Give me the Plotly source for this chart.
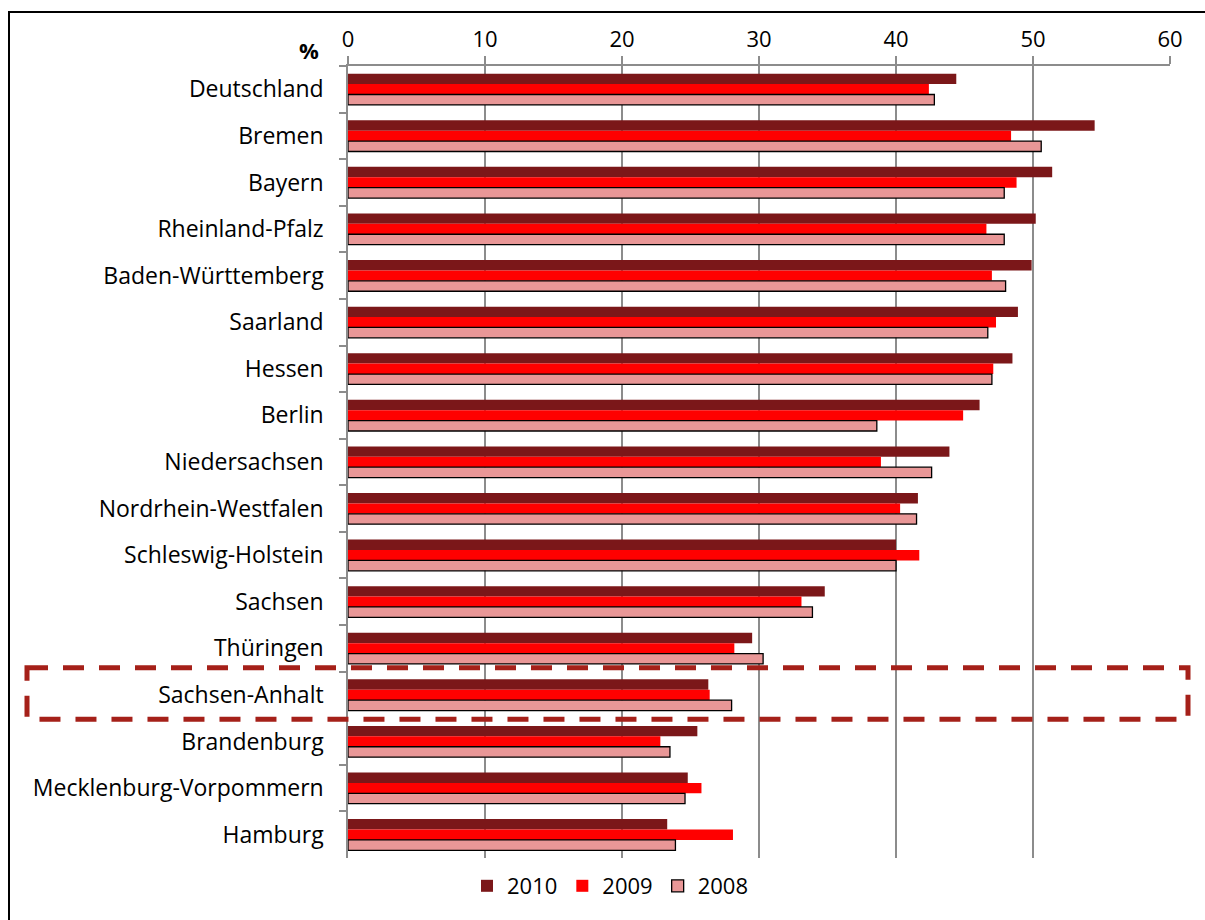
import plotly.graph_objects as go

# Länder, top to bottom
laender = [
    "Deutschland", "Bremen", "Bayern", "Rheinland-Pfalz", "Baden-Württemberg",
    "Saarland", "Hessen", "Berlin", "Niedersachsen", "Nordrhein-Westfalen",
    "Schleswig-Holstein", "Sachsen", "Thüringen", "Sachsen-Anhalt",
    "Brandenburg", "Mecklenburg-Vorpommern", "Hamburg",
]

# Anteile in %
werte_2010 = [44.4, 54.5, 51.4, 50.2, 49.9, 48.9, 48.5, 46.1, 43.9, 41.6,
              40.0, 34.8, 29.5, 26.3, 25.5, 24.8, 23.3]
werte_2009 = [42.4, 48.4, 48.8, 46.6, 47.0, 47.3, 47.1, 44.9, 38.9, 40.3,
              41.7, 33.1, 28.2, 26.4, 22.8, 25.8, 28.1]
werte_2008 = [42.8, 50.6, 47.9, 47.9, 48.0, 46.7, 47.0, 38.6, 42.6, 41.5,
              40.0, 33.9, 30.3, 28.0, 23.5, 24.6, 23.9]

x_ticks = [0, 10, 20, 30, 40, 50, 60]
hervorgehoben = "Sachsen-Anhalt"

FONT = "'Open Sans', Lato, sans-serif"
FS_CAT = 23
FS = 22
W, H = 1205, 920
L, R, T, B = 348, 35, 66, 62
plot_w = W - L - R
plot_h = H - T - B


def px_to_paper_x(px):
    return (px - L) / plot_w


def px_to_paper_y(py):
    return (H - B - py) / plot_h


fig = go.Figure()
series = [
    ("2010", werte_2010, "#7B1719", dict(width=0)),
    ("2009", werte_2009, "#FF0000", dict(width=0)),
    ("2008", werte_2008, "#E99797", dict(color="#000000", width=1.3)),
]
for name, vals, col, line in series:
    fig.add_trace(go.Bar(
        name=name, y=laender, x=vals, orientation="h",
        marker=dict(color=col, line=line),
    ))

# dashed frame around the highlighted Land (category slot +/- a bit)
idx = laender.index(hervorgehoben)
fig.add_shape(
    type="rect", xref="paper", yref="y",
    x0=px_to_paper_x(27), x1=px_to_paper_x(1188),
    y0=idx - 0.585, y1=idx + 0.52,
    line=dict(color="#A52019", width=5, dash="21px,15px"),
    layer="above",
)

# outer chart frame
fig.add_shape(
    type="rect", xref="paper", yref="paper",
    x0=px_to_paper_x(9), x1=px_to_paper_x(W + 10),
    y0=px_to_paper_y(H + 10), y1=px_to_paper_y(12),
    line=dict(color="#000000", width=2),
)

fig.add_annotation(
    text="<b>%</b>", xref="paper", yref="paper",
    x=px_to_paper_x(297), y=px_to_paper_y(33),
    showarrow=False, font=dict(family=FONT, size=FS, color="#000000"),
)

fig.update_layout(
    width=W, height=H,
    margin=dict(l=L, r=R, t=T, b=B),
    paper_bgcolor="#FFFFFF", plot_bgcolor="#FFFFFF",
    font=dict(family=FONT, size=FS, color="#000000"),
    barmode="group", bargap=0.33, bargroupgap=0,
    showlegend=True,
    legend=dict(
        orientation="h", xref="paper", yref="paper",
        x=px_to_paper_x(610), xanchor="center",
        y=px_to_paper_y(886), yanchor="middle",
        font=dict(family=FONT, size=FS), traceorder="normal",
        itemwidth=30,
    ),
)

fig.update_xaxes(
    side="top", range=[0, 60], tickvals=x_ticks,
    showgrid=True, gridcolor="#8C8C8C", gridwidth=1.5,
    showline=True, linecolor="#8C8C8C", linewidth=1.5,
    ticks="outside", ticklen=8, tickcolor="#8C8C8C", tickwidth=1.5,
    zeroline=False, tickfont=dict(family=FONT, size=FS),
)
fig.update_yaxes(
    autorange="reversed", categoryorder="array", categoryarray=laender,
    showline=True, linecolor="#8C8C8C", linewidth=1.5,
    ticks="outside", tickson="boundaries", ticklen=7, tickcolor="#8C8C8C",
    tickwidth=1.5, showgrid=False, ticklabelstandoff=18,
    tickfont=dict(family=FONT, size=FS_CAT),
)

fig.write_html("out.html")
